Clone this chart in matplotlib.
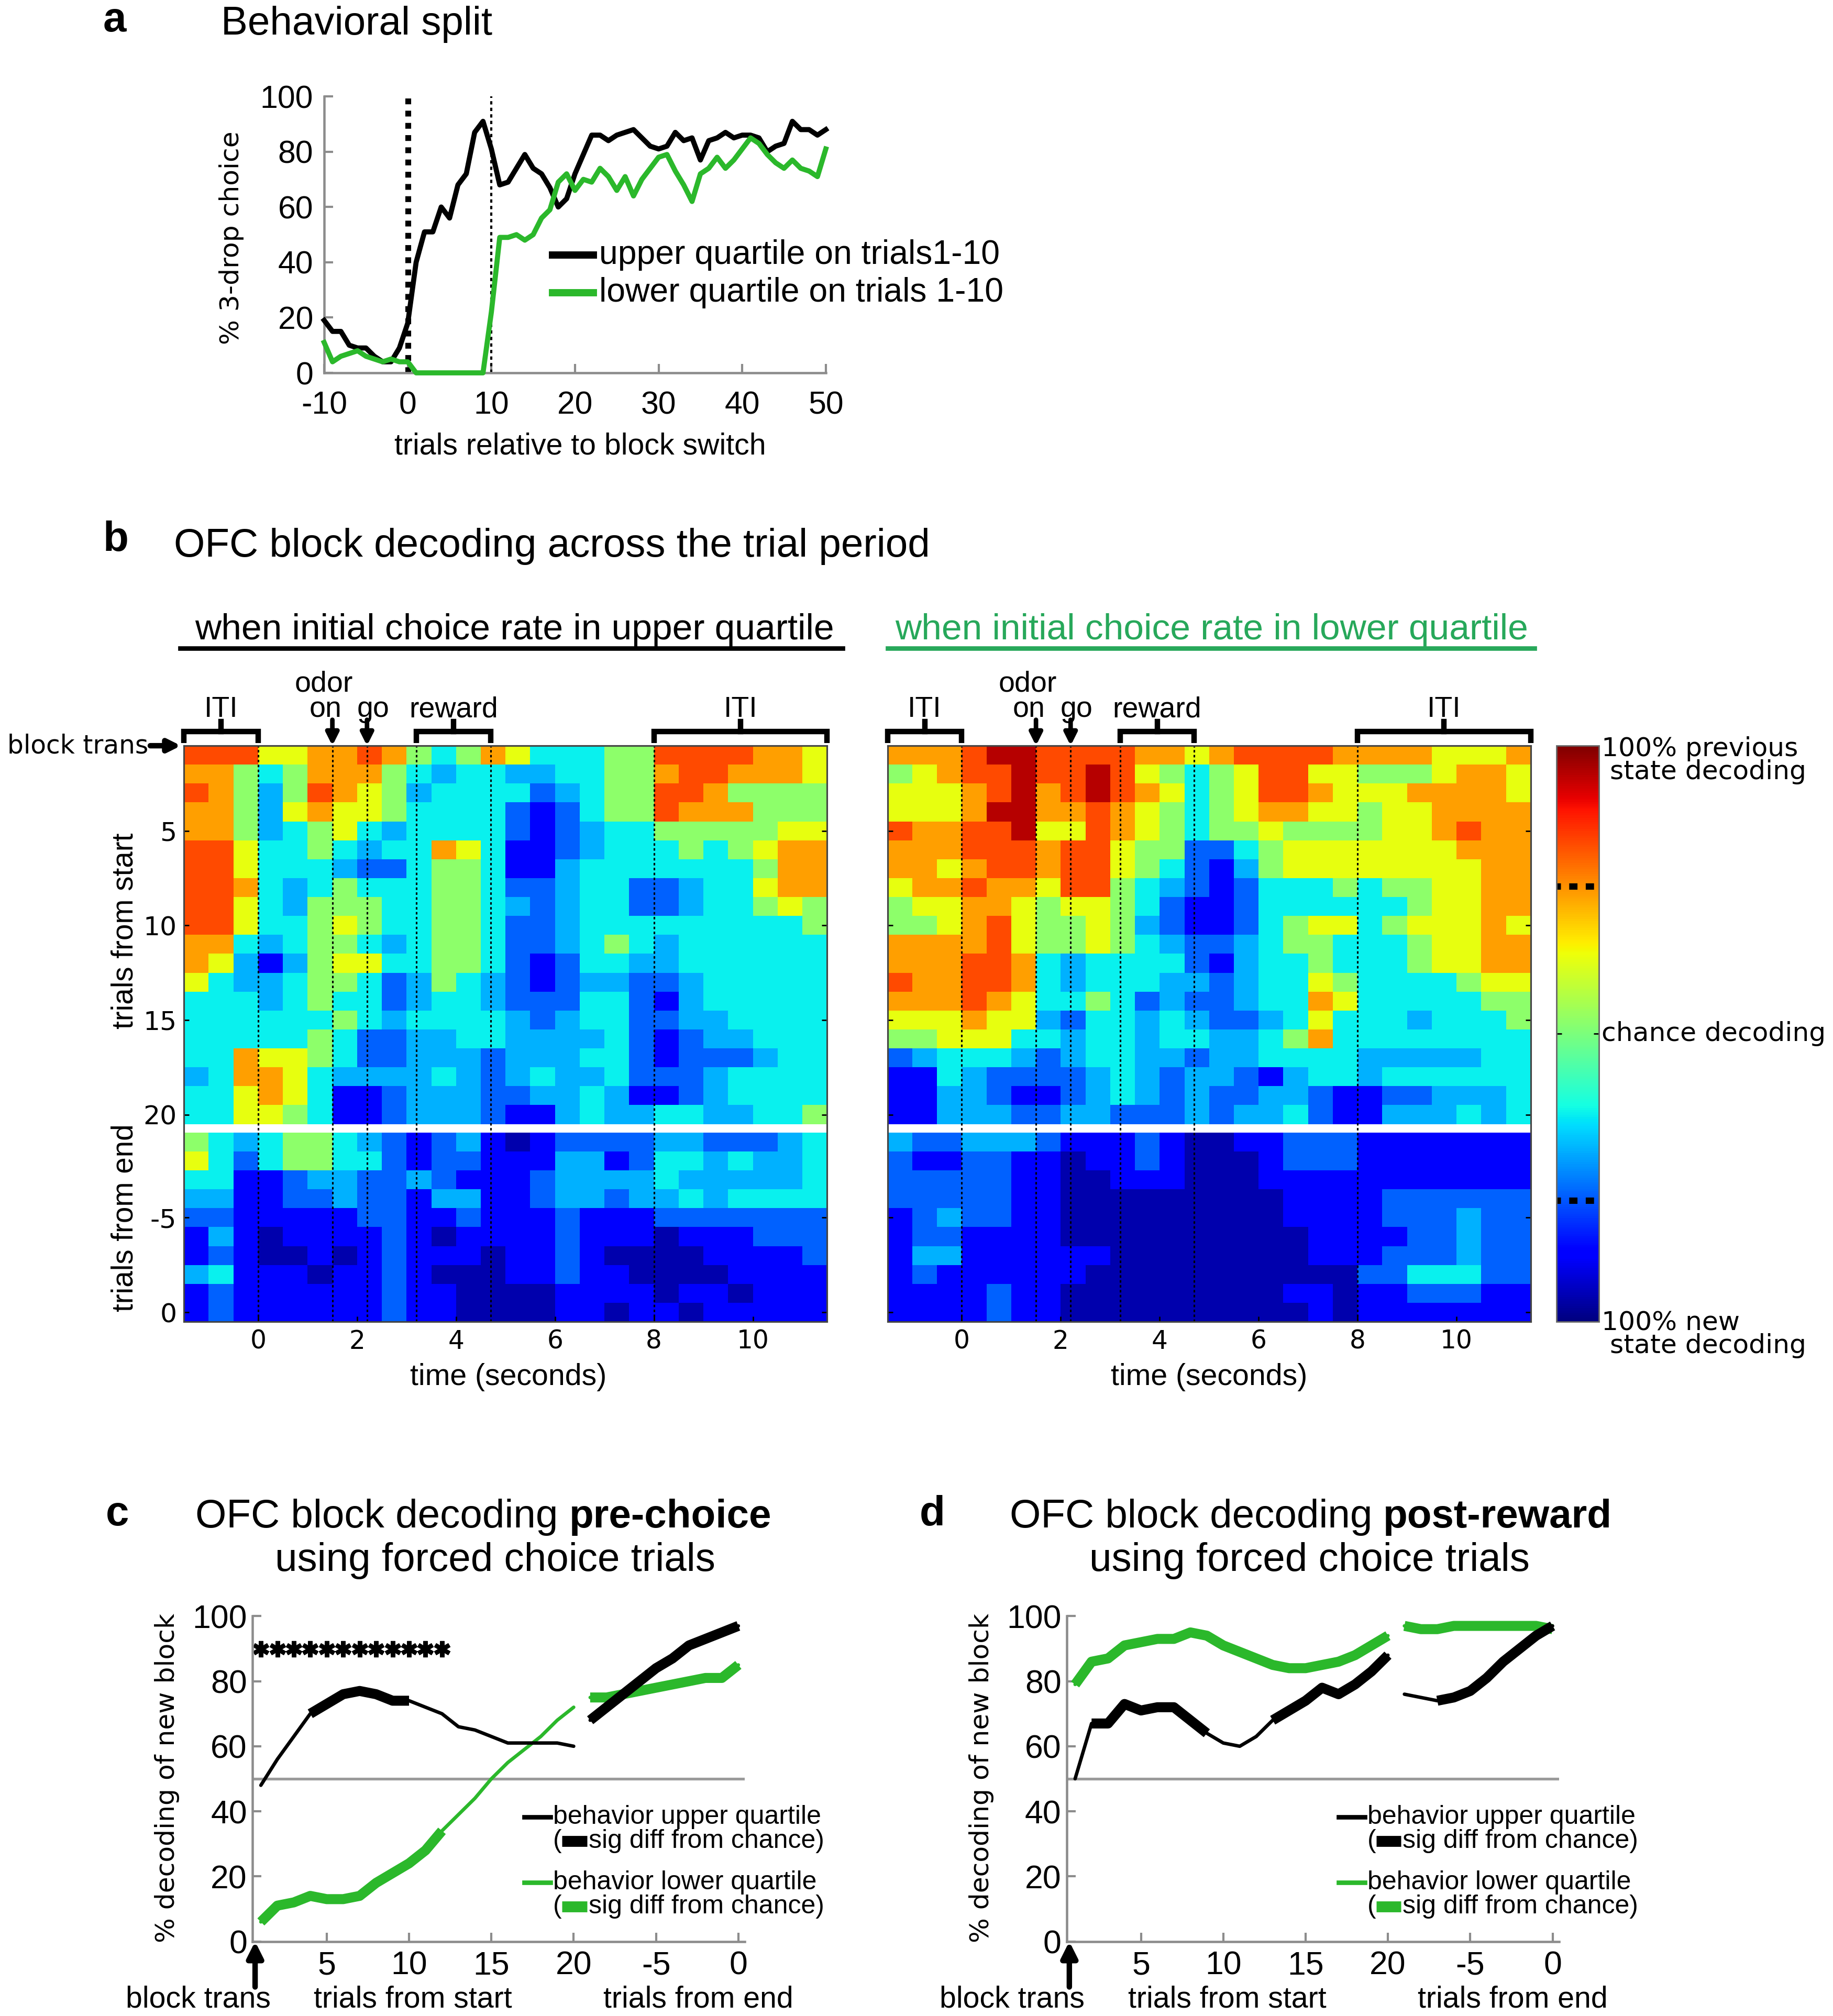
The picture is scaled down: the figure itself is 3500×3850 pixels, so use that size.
import numpy as np
import matplotlib
matplotlib.use("Agg")
import matplotlib.pyplot as plt
from matplotlib.lines import Line2D
from matplotlib.transforms import blended_transform_factory

REG = ["Liberation Sans", "DejaVu Sans"]
WIDE = ["DejaVu Sans"]
plt.rcParams["font.family"] = REG
plt.rcParams["axes.unicode_minus"] = False

GREEN = "#2bb82b"
HEAD_GREEN = "#27a85a"
GRAY = "#8c8c8c"

# ---------------- panel a: behaviour ----------------
trials_a = list(range(-10, 51))
upper_a = [19, 15, 15, 10, 9, 9, 6, 4, 4, 9,
           18, 40, 51, 51, 60, 56, 68, 72, 87, 91,
           81, 68, 69, 74, 79, 74, 72, 67, 60, 63,
           72, 79, 86, 86, 84, 86, 87, 88, 85, 82,
           81, 82, 87, 84, 85, 77, 84, 85, 87, 85,
           86, 86, 85, 80, 82, 83, 91, 88, 88, 86, 88]
lower_a = [11, 4, 6, 7, 8, 6, 5, 4, 5, 4,
           4, 0, 0, 0, 0, 0, 0, 0, 0, 0,
           22, 49, 49, 50, 48, 50, 56, 59, 69, 72,
           66, 70, 69, 74, 71, 66, 71, 64, 70, 74,
           78, 79, 73, 68, 62, 72, 74, 78, 74, 77,
           81, 85, 83, 79, 76, 74, 77, 74, 73, 71, 81]

# ---------------- panel b: decoding maps ----------------
# cell codes 0..9 -> % previous-state decoding
levels = [4, 12, 22, 30, 36, 52, 63, 74, 83, 95]
event_times = [0.0, 1.5, 2.2, 3.2, 4.7, 8.0]
upper_start = [
    "88866778754576444558888776",
    "77545777543443344557887776",
    "87535876534444234558875555",
    "77536766544442124558777555",
    "77534564344442123445555566",
    "88644543447641123444545677",
    "88644432245541134444444577",
    "88743454445542234422344677",
    "88643555445543234422344565",
    "88644565445542234444444445",
    "77434554345542234543444444",
    "76313566445542124433444444",
    "64334554235432123322344444",
    "44434544234432224421344444",
    "44444454344443234422334444",
    "44444542233443333421233444",
    "44766542233323334421222344",
    "34776433334323433422234444",
    "44676411233322334311234444",
    "44665411233321134334433445",
]
upper_end = [
    "54345543212310122223322234",
    "64245544212211133124434334",
    "44112332232111233334333334",
    "33112232213311233233434444",
    "22111112211211121112222222",
    "13101111210111121110111222",
    "12100101211101121000011112",
    "34111011210001121100001111",
    "12111111211000011110110111",
    "12111111211000011011011111",
]
lower_start = [
    "77789988887767888877776667",
    "56788988986545688665556776",
    "66678978987645688766677776",
    "66679977876545677665667777",
    "87788966876545565555667877",
    "77788878865522456666666777",
    "77678878865421356666666677",
    "67787768854321244454556677",
    "56677656654211244444456677",
    "55678655653211245664566676",
    "77778655654322345544456677",
    "77788743444421344544456677",
    "87788743444332344654444566",
    "77787644542322344764444455",
    "66676632443432234644434445",
    "55666443443443345744444444",
    "23444323443323344443333344",
    "11432222343233213443444444",
    "11332112343232233211223334",
    "11333223322232334211333434",
]
lower_end = [
    "32233321112100112221111111",
    "21122110112100012221111111",
    "22222110011100011111111111",
    "22222110000000001111222222",
    "12322110000000001111222322",
    "12211110000000000111122322",
    "13311111100000000111222322",
    "12111111000000000002244422",
    "11112110000000001101122211",
    "11112110000000000101111111",
]

# ---------------- panels c, d: forced-choice decoding ----------------
start_trials = list(range(1, 21))
end_trials = list(range(-9, 1))
star_trials = list(range(1, 13))

pre_upper_start = [48, 56, 63, 70, 73, 76, 77, 76, 74, 74, 72, 70, 66, 65, 63, 61, 61, 61, 61, 60]
pre_upper_start_sig = [0, 0, 0, 1, 1, 1, 1, 1, 1, 1, 0, 0, 0, 0, 0, 0, 0, 0, 0, 0]
pre_upper_end = [68, 72, 76, 80, 84, 87, 91, 93, 95, 97]
pre_upper_end_sig = [1, 1, 1, 1, 1, 1, 1, 1, 1, 1]
pre_lower_start = [6, 11, 12, 14, 13, 13, 14, 18, 21, 24, 28, 34, 39, 44, 50, 55, 59, 63, 68, 72]
pre_lower_start_sig = [1, 1, 1, 1, 1, 1, 1, 1, 1, 1, 1, 1, 0, 0, 0, 0, 0, 0, 0, 0]
pre_lower_end = [75, 75, 76, 77, 78, 79, 80, 81, 81, 85]
pre_lower_end_sig = [1, 1, 1, 1, 1, 1, 1, 1, 1, 1]

post_upper_start = [50, 67, 67, 73, 71, 72, 72, 68, 64, 61, 60, 63, 68, 71, 74, 78, 76, 79, 83, 88]
post_upper_start_sig = [0, 1, 1, 1, 1, 1, 1, 1, 1, 0, 0, 0, 1, 1, 1, 1, 1, 1, 1, 1]
post_upper_end = [76, 75, 74, 75, 77, 81, 86, 90, 94, 97]
post_upper_end_sig = [0, 0, 1, 1, 1, 1, 1, 1, 1, 1]
post_lower_start = [79, 86, 87, 91, 92, 93, 93, 95, 94, 91, 89, 87, 85, 84, 84, 85, 86, 88, 91, 94]
post_lower_start_sig = [1, 1, 1, 1, 1, 1, 1, 1, 1, 1, 1, 1, 1, 1, 1, 1, 1, 1, 1, 1]
post_lower_end = [97, 96, 96, 97, 97, 97, 97, 97, 97, 96]
post_lower_end_sig = [1, 1, 1, 1, 1, 1, 1, 1, 1, 1]

# layout is measured on a 1425 x 1568 grid of the reference
W, H = 1425.0, 1568.0


def fx(px):
    return px / W


def fy(py):
    return 1 - py / H


def gray_axes(ax):
    for s in ("top", "right"):
        ax.spines[s].set_visible(False)
    for s in ("left", "bottom"):
        ax.spines[s].set_color(GRAY)
        ax.spines[s].set_linewidth(1.3)
    ax.tick_params(direction="in", length=5, width=1.2, color=GRAY)


fig = plt.figure(figsize=(14, 15.4), dpi=250)

# ================= a =================
fig.text(fx(80), fy(16), "a", size=23, weight="bold", ha="left", va="center")
fig.text(fx(172), fy(19), "Behavioral split", size=22, ha="left", va="center")

ax_a = fig.add_axes([fx(252), fy(290), (642 - 252) / W, (290 - 75) / H])
gray_axes(ax_a)
ax_a.plot([0, 0], [0, 100], color="k", lw=3.2, ls=(0, (1, 1.1)))
ax_a.plot([10, 10], [0, 100], color="k", lw=1.2, ls=(0, (1.5, 1.5)))
ax_a.plot(trials_a, upper_a, color="k", lw=2.8, clip_on=False, zorder=3)
ax_a.plot(trials_a, lower_a, color=GREEN, lw=2.8, clip_on=False, zorder=3)
ax_a.set_xlim(-10, 50)
ax_a.set_ylim(0, 100)
ax_a.set_xticks(range(-10, 51, 10))
ax_a.set_yticks(range(0, 101, 20))
ax_a.tick_params(axis="x", labelsize=17.5, pad=10)
ax_a.tick_params(axis="y", labelsize=17.5, pad=6)
ax_a.plot([17.3, 22.2], [42.6, 42.6], color="k", lw=4, clip_on=False)
ax_a.text(22.9, 42.6, "upper quartile on trials1-10", size=18.5, ha="left", va="center")
ax_a.plot([17.3, 22.2], [29, 29], color=GREEN, lw=4, clip_on=False)
ax_a.text(22.9, 29, "lower quartile on trials 1-10", size=18.5, ha="left", va="center")
fig.text(fx(180), fy(185), "% 3-drop choice", family=WIDE, size=14.5,
         rotation=90, ha="center", va="center")
fig.text(fx(451), fy(347), "trials relative to block switch", size=16.5,
         ha="center", va="center")

# ================= b =================
fig.text(fx(80), fy(420), "b", size=23, weight="bold", ha="left", va="center")
fig.text(fx(135), fy(425), "OFC block decoding across the trial period", size=22,
         ha="left", va="center")
fig.text(fx(400), fy(490), "when initial choice rate in upper quartile", size=20,
         ha="center", va="center")
fig.add_artist(Line2D([fx(140), fx(655)], [fy(504), fy(504)], color="k", lw=2.5))
fig.text(fx(942), fy(490), "when initial choice rate in lower quartile", size=20,
         ha="center", va="center", color=HEAD_GREEN)
fig.add_artist(Line2D([fx(690), fx(1193)], [fy(504), fy(504)], color=HEAD_GREEN, lw=2.5))

GAP = 0.45
time_edges = np.linspace(-1.5, 11.5, 27)


def decode(rows):
    return np.array([[levels[int(c)] for c in row] for row in rows], dtype=float)


def heatmap(ax, start_rows, end_rows, left_labels):
    ax.pcolormesh(time_edges, np.arange(0, 21), decode(start_rows),
                  cmap="jet", vmin=0, vmax=100)
    mesh = ax.pcolormesh(time_edges, np.arange(0, 11) + 20 + GAP, decode(end_rows),
                         cmap="jet", vmin=0, vmax=100)
    ax.set_xlim(-1.5, 11.5)
    ax.set_ylim(30 + GAP, 0)
    for t in event_times:
        ax.axvline(t, color="k", lw=0.9, ls=(0, (1.5, 1.5)))
    for s in ax.spines.values():
        s.set_linewidth(0.9)
        s.set_color("#444444")
    ax.set_xticks(range(0, 11, 2))
    ax.set_yticks([4.5, 9.5, 14.5, 19.5, 24.5 + GAP, 29.5 + GAP])
    ax.tick_params(direction="in", length=3, width=0.8, right=True, top=False)
    ax.tick_params(axis="x", labelsize=14, pad=4)
    for lab in ax.get_xticklabels():
        lab.set_family(WIDE)
    if left_labels:
        ax.set_yticklabels(["5", "10", "15", "20", "-5", "0"], family=WIDE, size=14.5)
        ax.tick_params(axis="y", pad=4)
    else:
        ax.set_yticklabels([])

    tr = blended_transform_factory(ax.transData, ax.transAxes)
    for (x0, x1), lab in zip([(-1.5, 0.0), (3.2, 4.7), (8.0, 11.5)], ["ITI", "reward", "ITI"]):
        ax.plot([x0, x0, x1, x1], [1.005, 1.025, 1.025, 1.005], transform=tr, color="k",
                lw=3, clip_on=False, solid_joinstyle="miter", solid_capstyle="butt")
        xc = (x0 + x1) / 2
        ax.plot([xc, xc], [1.025, 1.042], transform=tr, color="k", lw=3, clip_on=False)
        ax.text(xc, 1.05, lab, transform=tr, ha="center", va="baseline", size=16)
    for t in (1.5, 2.2):
        ax.annotate("", xy=(t, 1.0), xytext=(t, 1.045), xycoords=tr, textcoords=tr,
                    arrowprops=dict(arrowstyle="-|>", color="k", lw=2.5,
                                    mutation_scale=14, shrinkA=0, shrinkB=0))
    ax.text(1.33, 1.094, "odor", transform=tr, ha="center", va="baseline", size=16)
    ax.text(1.36, 1.05, "on", transform=tr, ha="center", va="baseline", size=16)
    ax.text(2.32, 1.05, "go", transform=tr, ha="center", va="baseline", size=16)
    return mesh


ax_bl = fig.add_axes([fx(143), fy(1028), 500 / W, 448 / H])
ax_br = fig.add_axes([fx(690), fy(1028), 500 / W, 448 / H])
heatmap(ax_bl, upper_start, upper_end, True)
mesh = heatmap(ax_br, lower_start, lower_end, False)

tr_l = blended_transform_factory(ax_bl.transData, ax_bl.transAxes)
ax_bl.annotate("", xy=(-1.56, 1.0), xytext=(-2.18, 1.0), xycoords=tr_l, textcoords=tr_l,
               arrowprops=dict(arrowstyle="-|>", color="k", lw=3, mutation_scale=14,
                               shrinkA=0, shrinkB=0))
ax_bl.text(-2.22, 1.0, "block trans", transform=tr_l, family=WIDE, size=14,
           ha="right", va="center")

for xc in (395, 940):
    fig.text(fx(xc), fy(1071), "time (seconds)", size=16.5, ha="center", va="center")
fig.text(fx(97), fy(724), "trials from start", size=16.3, rotation=90,
         ha="center", va="center")
fig.text(fx(97), fy(947), "trials from end", size=16.3, rotation=90,
         ha="center", va="center")

cax = fig.add_axes([fx(1210), fy(1028), 33 / W, 448 / H])
cb = fig.colorbar(mesh, cax=cax)
cb.set_ticks([50])
cb.set_ticklabels([""])
cax.tick_params(direction="in", length=3, left=True, right=True)
cb.outline.set_linewidth(0.8)
cb.outline.set_edgecolor("#666666")
cax.axhline(75.6, color="k", lw=3.5, ls=(0.6, (1.3, 1.3)))
cax.axhline(21, color="k", lw=3.5, ls=(0.6, (1.3, 1.3)))
cax.text(1.06, 0.975, "100% previous\n state decoding", transform=cax.transAxes,
         family=WIDE, size=14.5, ha="left", va="center", linespacing=0.9)
cax.text(1.06, 0.5, "chance decoding", transform=cax.transAxes,
         family=WIDE, size=14.5, ha="left", va="center")
cax.text(1.06, -0.022, "100% new\n state decoding", transform=cax.transAxes,
         family=WIDE, size=14.5, ha="left", va="center", linespacing=0.9)

# ================= c, d =================
end_x = [30 + t for t in end_trials]


def series(ax, x, y, sig, color):
    ax.plot(x, y, color=color, lw=1.9, solid_capstyle="round", zorder=3)
    thick = [v if s else np.nan for v, s in zip(y, sig)]
    ax.plot(x, thick, color=color, lw=5.5, solid_capstyle="butt", zorder=3)


def decoding_panel(ax, x0, upper, lower, bold_word, letter):
    gray_axes(ax)
    ax.plot([0.5, 30.4], [50, 50], color="#9a9a9a", lw=1.5, zorder=1)
    series(ax, start_trials, lower[0], lower[1], GREEN)
    series(ax, end_x, lower[2], lower[3], GREEN)
    series(ax, start_trials, upper[0], upper[1], "k")
    series(ax, end_x, upper[2], upper[3], "k")
    ax.set_xlim(0.5, 30.4)
    ax.set_ylim(0, 100)
    ax.set_xticks([5, 10, 15, 20, 25, 30])
    ax.set_xticklabels(["5", "10", "15", "20", "-5", "0"])
    ax.set_yticks(range(0, 101, 20))
    ax.tick_params(axis="x", labelsize=18, pad=5)
    ax.tick_params(axis="y", labelsize=18, pad=3)

    # legend
    for yl, ys, col in ((38.3, 30.8, "k"), (18.2, 10.7, GREEN)):
        ax.plot([17.0, 18.6], [yl, yl], color=col, lw=2.5, clip_on=False)
        name = "behavior upper quartile" if col == "k" else "behavior lower quartile"
        ax.text(18.75, yl, name, size=14.4, ha="left", va="center")
        ax.text(18.75, ys, "(", size=14.4, ha="left", va="center")
        ax.plot([19.3, 20.8], [ys, ys], color=col, lw=6, clip_on=False, solid_capstyle="butt")
        ax.text(20.9, ys, "sig diff from chance)", size=14.4, ha="left", va="center")

    ax.annotate("", xy=(0.65, 0), xytext=(0.65, -14), annotation_clip=False,
                arrowprops=dict(arrowstyle="-|>", color="k", lw=3, mutation_scale=18,
                                shrinkA=0, shrinkB=0))
    fig.text(fx(x0 - 36), fy(1555), "block trans", size=16.5, ha="center", va="center")
    fig.text(fx(x0 + 131), fy(1555), "trials from start", size=16.5, ha="center", va="center")
    fig.text(fx(x0 + 353), fy(1555), "trials from end", size=16.5, ha="center", va="center")
    fig.text(fx(x0 - 60), fy(1383), "% decoding of new block", family=WIDE, size=14.5,
             rotation=90, ha="center", va="center")

    fig.text(fx(x0 - 108), fy(1178), letter, size=23, weight="bold", ha="left", va="center")
    t1 = fig.text(fx(x0 - 38), fy(1180), "OFC block decoding", size=22,
                  ha="left", va="center")
    ax.annotate(bold_word, xy=(1, 0), xycoords=t1, xytext=(6, 0),
                textcoords="offset points", size=22, weight="bold",
                ha="left", va="bottom", annotation_clip=False)
    fig.text(fx(x0 + 195), fy(1214), "using forced choice trials", size=22,
             ha="center", va="center")


ax_c = fig.add_axes([fx(196.4), fy(1510), 29.9 * 12.8 / W, 253 / H])
decoding_panel(ax_c, 190,
               (pre_upper_start, pre_upper_start_sig, pre_upper_end, pre_upper_end_sig),
               (pre_lower_start, pre_lower_start_sig, pre_lower_end, pre_lower_end_sig),
               "pre-choice", "c")
ax_c.plot(star_trials, [90] * len(star_trials), ls="none", marker=(6, 2, 0),
          ms=9, mew=2.4, color="k")

ax_d = fig.add_axes([fx(829.4), fy(1510), 29.9 * 12.8 / W, 253 / H])
decoding_panel(ax_d, 823,
               (post_upper_start, post_upper_start_sig, post_upper_end, post_upper_end_sig),
               (post_lower_start, post_lower_start_sig, post_lower_end, post_lower_end_sig),
               "post-reward", "d")

fig.savefig("out.png", dpi=250, facecolor="white")
